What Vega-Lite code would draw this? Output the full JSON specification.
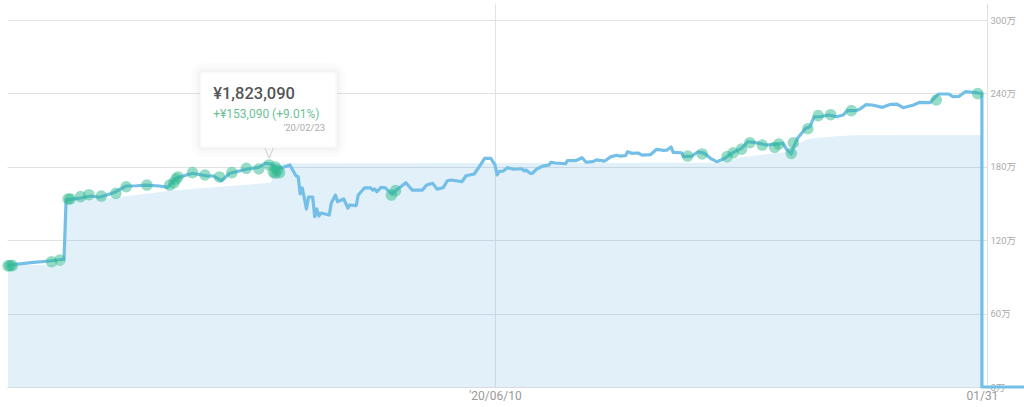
{
  "$schema": "https://vega.github.io/schema/vega-lite/v6.json",
  "width": 980,
  "height": 384,
  "padding": {"left": 7, "top": 3, "right": 37, "bottom": 20},
  "autosize": {"type": "none"},
  "background": "white",
  "config": {"view": {"stroke": null}, "font": "Roboto, Noto Sans CJK JP"},
  "datasets": {
    "cost": [
      {"date": "2019-10-19", "value": 995000},
      {"date": "2019-11-15", "value": 1000000},
      {"date": "2019-11-16", "value": 1530000},
      {"date": "2019-12-10", "value": 1550000},
      {"date": "2020-01-05", "value": 1605000},
      {"date": "2020-02-23", "value": 1670000},
      {"date": "2020-02-24", "value": 1827000},
      {"date": "2020-09-27", "value": 1833000},
      {"date": "2020-10-06", "value": 1877000},
      {"date": "2020-10-29", "value": 1921000},
      {"date": "2020-11-03", "value": 1986000},
      {"date": "2020-11-08", "value": 2027000},
      {"date": "2020-11-17", "value": 2044000},
      {"date": "2020-11-30", "value": 2057000},
      {"date": "2021-01-31", "value": 2060000}
    ],
    "assets": [
      {"date": "2019-10-19", "value": 995000},
      {"date": "2019-10-30", "value": 1016000},
      {"date": "2019-11-08", "value": 1030000},
      {"date": "2019-11-15", "value": 1044000},
      {"date": "2019-11-16", "value": 1529000},
      {"date": "2019-11-23", "value": 1545000},
      {"date": "2019-11-28", "value": 1561000},
      {"date": "2019-12-02", "value": 1551000},
      {"date": "2019-12-09", "value": 1588000},
      {"date": "2019-12-15", "value": 1643000},
      {"date": "2019-12-20", "value": 1645000},
      {"date": "2019-12-25", "value": 1651000},
      {"date": "2019-12-31", "value": 1643000},
      {"date": "2020-01-04", "value": 1632000},
      {"date": "2020-01-08", "value": 1706000},
      {"date": "2020-01-16", "value": 1747000},
      {"date": "2020-01-23", "value": 1725000},
      {"date": "2020-01-26", "value": 1725000},
      {"date": "2020-01-30", "value": 1686000},
      {"date": "2020-02-03", "value": 1747000},
      {"date": "2020-02-11", "value": 1780000},
      {"date": "2020-02-17", "value": 1796000},
      {"date": "2020-02-20", "value": 1829000},
      {"date": "2020-02-23", "value": 1823090},
      {"date": "2020-02-26", "value": 1790000},
      {"date": "2020-02-29", "value": 1796000},
      {"date": "2020-03-03", "value": 1815000},
      {"date": "2020-03-06", "value": 1725000},
      {"date": "2020-03-07", "value": 1721000},
      {"date": "2020-03-08", "value": 1578000},
      {"date": "2020-03-09", "value": 1627000},
      {"date": "2020-03-11", "value": 1455000},
      {"date": "2020-03-12", "value": 1553000},
      {"date": "2020-03-14", "value": 1553000},
      {"date": "2020-03-15", "value": 1392000},
      {"date": "2020-03-16", "value": 1455000},
      {"date": "2020-03-17", "value": 1398000},
      {"date": "2020-03-18", "value": 1422000},
      {"date": "2020-03-22", "value": 1406000},
      {"date": "2020-03-23", "value": 1504000},
      {"date": "2020-03-25", "value": 1569000},
      {"date": "2020-03-26", "value": 1515000},
      {"date": "2020-03-29", "value": 1537000},
      {"date": "2020-03-31", "value": 1463000},
      {"date": "2020-04-01", "value": 1488000},
      {"date": "2020-04-04", "value": 1482000},
      {"date": "2020-04-05", "value": 1569000},
      {"date": "2020-04-08", "value": 1627000},
      {"date": "2020-04-11", "value": 1627000},
      {"date": "2020-04-12", "value": 1610000},
      {"date": "2020-04-13", "value": 1618000},
      {"date": "2020-04-14", "value": 1596000},
      {"date": "2020-04-16", "value": 1632000},
      {"date": "2020-04-18", "value": 1629000},
      {"date": "2020-04-21", "value": 1578000},
      {"date": "2020-04-23", "value": 1605000},
      {"date": "2020-04-28", "value": 1670000},
      {"date": "2020-05-01", "value": 1610000},
      {"date": "2020-05-06", "value": 1610000},
      {"date": "2020-05-08", "value": 1651000},
      {"date": "2020-05-11", "value": 1665000},
      {"date": "2020-05-13", "value": 1618000},
      {"date": "2020-05-16", "value": 1629000},
      {"date": "2020-05-18", "value": 1686000},
      {"date": "2020-05-20", "value": 1692000},
      {"date": "2020-05-25", "value": 1678000},
      {"date": "2020-05-27", "value": 1727000},
      {"date": "2020-05-31", "value": 1741000},
      {"date": "2020-06-03", "value": 1815000},
      {"date": "2020-06-05", "value": 1869000},
      {"date": "2020-06-08", "value": 1869000},
      {"date": "2020-06-10", "value": 1815000},
      {"date": "2020-06-11", "value": 1733000},
      {"date": "2020-06-12", "value": 1760000},
      {"date": "2020-06-14", "value": 1766000},
      {"date": "2020-06-16", "value": 1793000},
      {"date": "2020-06-19", "value": 1780000},
      {"date": "2020-06-23", "value": 1784000},
      {"date": "2020-06-24", "value": 1766000},
      {"date": "2020-06-25", "value": 1774000},
      {"date": "2020-06-27", "value": 1747000},
      {"date": "2020-06-28", "value": 1747000},
      {"date": "2020-06-30", "value": 1780000},
      {"date": "2020-07-03", "value": 1806000},
      {"date": "2020-07-06", "value": 1815000},
      {"date": "2020-07-07", "value": 1837000},
      {"date": "2020-07-09", "value": 1831000},
      {"date": "2020-07-14", "value": 1825000},
      {"date": "2020-07-15", "value": 1850000},
      {"date": "2020-07-19", "value": 1850000},
      {"date": "2020-07-22", "value": 1874000},
      {"date": "2020-07-24", "value": 1837000},
      {"date": "2020-07-27", "value": 1842000},
      {"date": "2020-07-29", "value": 1856000},
      {"date": "2020-08-02", "value": 1847000},
      {"date": "2020-08-05", "value": 1883000},
      {"date": "2020-08-08", "value": 1894000},
      {"date": "2020-08-09", "value": 1888000},
      {"date": "2020-08-12", "value": 1891000},
      {"date": "2020-08-13", "value": 1923000},
      {"date": "2020-08-15", "value": 1910000},
      {"date": "2020-08-18", "value": 1913000},
      {"date": "2020-08-20", "value": 1896000},
      {"date": "2020-08-24", "value": 1899000},
      {"date": "2020-08-27", "value": 1943000},
      {"date": "2020-08-30", "value": 1935000},
      {"date": "2020-09-01", "value": 1937000},
      {"date": "2020-09-03", "value": 1962000},
      {"date": "2020-09-04", "value": 1918000},
      {"date": "2020-09-08", "value": 1915000},
      {"date": "2020-09-09", "value": 1883000},
      {"date": "2020-09-13", "value": 1888000},
      {"date": "2020-09-16", "value": 1923000},
      {"date": "2020-09-19", "value": 1910000},
      {"date": "2020-09-22", "value": 1869000},
      {"date": "2020-09-25", "value": 1842000},
      {"date": "2020-09-28", "value": 1861000},
      {"date": "2020-09-30", "value": 1883000},
      {"date": "2020-10-03", "value": 1918000},
      {"date": "2020-10-07", "value": 1951000},
      {"date": "2020-10-10", "value": 2005000},
      {"date": "2020-10-14", "value": 1997000},
      {"date": "2020-10-19", "value": 1978000},
      {"date": "2020-10-24", "value": 1986000},
      {"date": "2020-10-27", "value": 1992000},
      {"date": "2020-10-29", "value": 1937000},
      {"date": "2020-10-31", "value": 1905000},
      {"date": "2020-11-01", "value": 1959000},
      {"date": "2020-11-03", "value": 2033000},
      {"date": "2020-11-07", "value": 2115000},
      {"date": "2020-11-09", "value": 2128000},
      {"date": "2020-11-11", "value": 2209000},
      {"date": "2020-11-14", "value": 2209000},
      {"date": "2020-11-18", "value": 2223000},
      {"date": "2020-11-22", "value": 2209000},
      {"date": "2020-11-25", "value": 2223000},
      {"date": "2020-11-27", "value": 2259000},
      {"date": "2020-12-01", "value": 2259000},
      {"date": "2020-12-03", "value": 2270000},
      {"date": "2020-12-06", "value": 2308000},
      {"date": "2020-12-09", "value": 2305000},
      {"date": "2020-12-14", "value": 2286000},
      {"date": "2020-12-18", "value": 2311000},
      {"date": "2020-12-21", "value": 2313000},
      {"date": "2020-12-24", "value": 2283000},
      {"date": "2020-12-29", "value": 2305000},
      {"date": "2021-01-01", "value": 2327000},
      {"date": "2021-01-06", "value": 2324000},
      {"date": "2021-01-10", "value": 2395000},
      {"date": "2021-01-15", "value": 2395000},
      {"date": "2021-01-17", "value": 2373000},
      {"date": "2021-01-20", "value": 2376000},
      {"date": "2021-01-23", "value": 2414000},
      {"date": "2021-01-27", "value": 2409000},
      {"date": "2021-01-30", "value": 2401000},
      {"date": "2021-01-31", "value": 2400000},
      {"date": "2021-01-31", "value": 0},
      {"date": "2021-02-21", "value": 0}
    ],
    "trades": [
      {"date": "2019-10-19", "value": 990000},
      {"date": "2019-10-20", "value": 992000},
      {"date": "2019-10-21", "value": 992000},
      {"date": "2019-11-09", "value": 1024000},
      {"date": "2019-11-13", "value": 1038000},
      {"date": "2019-11-17", "value": 1537000},
      {"date": "2019-11-18", "value": 1537000},
      {"date": "2019-11-23", "value": 1556000},
      {"date": "2019-11-27", "value": 1572000},
      {"date": "2019-12-03", "value": 1561000},
      {"date": "2019-12-10", "value": 1583000},
      {"date": "2019-12-15", "value": 1637000},
      {"date": "2019-12-25", "value": 1651000},
      {"date": "2020-01-05", "value": 1651000},
      {"date": "2020-01-07", "value": 1668000},
      {"date": "2020-01-08", "value": 1700000},
      {"date": "2020-01-09", "value": 1717000},
      {"date": "2020-01-16", "value": 1752000},
      {"date": "2020-01-22", "value": 1733000},
      {"date": "2020-01-29", "value": 1717000},
      {"date": "2020-02-04", "value": 1752000},
      {"date": "2020-02-11", "value": 1788000},
      {"date": "2020-02-17", "value": 1782000},
      {"date": "2020-02-22", "value": 1815000},
      {"date": "2020-02-24", "value": 1757000},
      {"date": "2020-02-25", "value": 1798000},
      {"date": "2020-02-25", "value": 1749000},
      {"date": "2020-02-26", "value": 1774000},
      {"date": "2020-02-27", "value": 1752000},
      {"date": "2020-04-21", "value": 1569000},
      {"date": "2020-04-23", "value": 1605000},
      {"date": "2020-09-11", "value": 1888000},
      {"date": "2020-09-18", "value": 1905000},
      {"date": "2020-09-30", "value": 1883000},
      {"date": "2020-10-03", "value": 1915000},
      {"date": "2020-10-07", "value": 1945000},
      {"date": "2020-10-11", "value": 1997000},
      {"date": "2020-10-17", "value": 1978000},
      {"date": "2020-10-23", "value": 1959000},
      {"date": "2020-10-25", "value": 1986000},
      {"date": "2020-10-31", "value": 1910000},
      {"date": "2020-11-01", "value": 1997000},
      {"date": "2020-11-08", "value": 2111000},
      {"date": "2020-11-13", "value": 2218000},
      {"date": "2020-11-19", "value": 2226000},
      {"date": "2020-11-29", "value": 2259000},
      {"date": "2021-01-09", "value": 2346000},
      {"date": "2021-01-29", "value": 2398000}
    ],
    "callout": [
      {"date": "2020-01-19T14:00:00Z", "date2": "2020-03-25T17:00:00Z", "value": 1953600, "value2": 2574800}
    ],
    "pointer": [
      {"date": "2020-02-20", "value": 1953000},
      {"date": "2020-02-22", "value": 1872000},
      {"date": "2020-02-24", "value": 1953000}
    ],
    "calloutLeft": [
      {"date": "2020-01-26", "value": 2395000, "label": "¥1,823,090"}
    ],
    "calloutGain": [
      {"date": "2020-01-26", "value": 2235000, "label": "+¥153,090 (+9.01%)"}
    ],
    "calloutDate": [
      {"date": "2020-03-20", "value": 2117000, "label": "'20/02/23"}
    ]
  },
  "encoding": {
    "x": {
      "field": "date",
      "type": "temporal",
      "title": null,
      "scale": {"type": "utc", "domain": ["2019-10-18T11:30:00Z", "2021-02-02T11:00:00Z"]},
      "axis": {
        "values": [
          {"year": 2020, "month": 6, "date": 10, "utc": true},
          {"year": 2021, "month": 1, "date": 31, "utc": true}
        ],
        "labelExpr": "utcyear(datum.value) == 2020 ? utcFormat(datum.value, \"'%y/%m/%d\") : utcFormat(datum.value, '%m/%d')",
        "grid": true,
        "gridColor": "#dfe4e8",
        "gridOpacity": {"condition": {"test": "utcyear(datum.value) == 2021", "value": 0}, "value": 1},
        "domainColor": "#d5dde3",
        "ticks": false,
        "labelPadding": 3,
        "labelFontSize": 12,
        "labelColor": "#999999",
        "labelOverlap": false,
        "labelFlush": false
      }
    },
    "y": {
      "field": "value",
      "type": "quantitative",
      "title": null,
      "scale": {"domain": [0, 3139000], "nice": false},
      "axis": {
        "orient": "right",
        "values": [0, 600000, 1200000, 1800000, 2400000, 3000000],
        "labelExpr": "format(datum.value / 10000, 'd') + '万'",
        "grid": true,
        "gridColor": "#dfe3e6",
        "domainColor": "#e0e0e0",
        "ticks": false,
        "labelPadding": 3,
        "labelFontSize": 9.5,
        "labelColor": "#aaaaaa"
      }
    }
  },
  "layer": [
    {
      "data": {"name": "cost"},
      "mark": {"type": "area", "color": "#3d9ad9", "opacity": 0.15}
    },
    {
      "data": {"name": "assets"},
      "mark": {"type": "line", "color": "#74bfe8", "strokeWidth": 3.2, "strokeJoin": "round", "clip": false}
    },
    {
      "data": {"name": "trades"},
      "mark": {"type": "point", "filled": true, "size": 135, "color": "#2dba8d", "opacity": 0.5}
    },
    {
      "data": {"name": "callout"},
      "mark": {"type": "rect", "fill": "none", "stroke": "#000000", "strokeOpacity": 0.012, "strokeWidth": 18, "cornerRadius": 3},
      "encoding": {"x2": {"field": "date2"}, "y2": {"field": "value2"}}
    },
    {
      "data": {"name": "callout"},
      "mark": {"type": "rect", "fill": "none", "stroke": "#000000", "strokeOpacity": 0.015, "strokeWidth": 10, "cornerRadius": 3},
      "encoding": {"x2": {"field": "date2"}, "y2": {"field": "value2"}}
    },
    {
      "data": {"name": "callout"},
      "mark": {"type": "rect", "fill": "#ffffff", "stroke": "#000000", "strokeOpacity": 0.02, "strokeWidth": 4, "cornerRadius": 3},
      "encoding": {"x2": {"field": "date2"}, "y2": {"field": "value2"}}
    },
    {
      "data": {"name": "pointer"},
      "mark": {"type": "line", "color": "#cccccc", "strokeWidth": 1}
    },
    {
      "data": {"name": "calloutLeft"},
      "mark": {"type": "text", "align": "left", "baseline": "middle", "fontSize": 16.5, "fontWeight": 500, "color": "#555555"},
      "encoding": {"text": {"field": "label"}}
    },
    {
      "data": {"name": "calloutGain"},
      "mark": {"type": "text", "align": "left", "baseline": "middle", "fontSize": 12, "color": "#6dbf97"},
      "encoding": {"text": {"field": "label"}}
    },
    {
      "data": {"name": "calloutDate"},
      "mark": {"type": "text", "align": "right", "baseline": "middle", "fontSize": 9.5, "color": "#aaaaaa"},
      "encoding": {"text": {"field": "label"}}
    }
  ]
}
